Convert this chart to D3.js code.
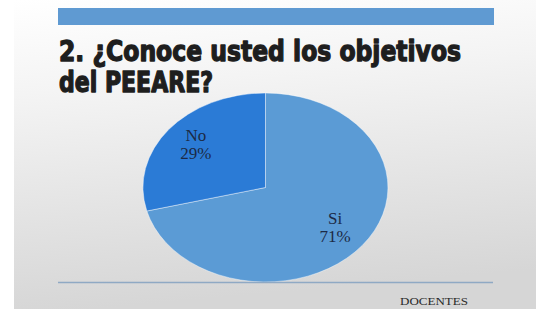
<!DOCTYPE html>
<html><head><meta charset="utf-8">
<script src="https://cdn.jsdelivr.net/npm/d3@7"></script>
<style>html,body{margin:0;padding:0;background:#fff;}svg{display:block;}</style>
</head><body>
<svg id="chart" width="536" height="309"></svg>
<script>
const categories = ["Si", "No"];
const values = [71, 29];
const labels = ["71%", "29%"];
const titleLines = ["2. ¿Conoce usted los objetivos", "del PEEARE?"];
const footer = "DOCENTES";

const colors = d3.scaleOrdinal().domain(categories).range(["#5b9bd5", "#2b7bd6"]);
const svg = d3.select("#chart");
const W = 536, H = 309;

const defs = svg.append("defs");
const g = defs.append("linearGradient").attr("id","bg").attr("x1",0).attr("y1",0).attr("x2",0.15).attr("y2",1);
g.append("stop").attr("offset","0%").attr("stop-color","#ffffff");
g.append("stop").attr("offset","30%").attr("stop-color","#f4f4f4");
g.append("stop").attr("offset","100%").attr("stop-color","#d6d6d6");

svg.append("rect").attr("width",W).attr("height",H).attr("fill","#fff");
svg.append("rect").attr("x",14).attr("y",0).attr("width",W-14).attr("height",H).attr("fill","url(#bg)");

// top blue bar
svg.append("rect").attr("x",58).attr("y",8).attr("width",436).attr("height",17).attr("fill","#5f9ad2");

// title
const tt = svg.append("g").attr("font-family","'DejaVu Sans Condensed','Liberation Sans Narrow',sans-serif")
  .attr("font-weight","bold").attr("fill","#1e1e1e").attr("stroke","#1e1e1e").attr("stroke-width",1.3)
  .attr("stroke-linejoin","round").attr("font-size",28);
tt.append("text").attr("x",59).attr("y",61).attr("textLength",402).attr("lengthAdjust","spacingAndGlyphs").text(titleLines[0]);
tt.append("text").attr("x",59).attr("y",92).attr("textLength",154).attr("lengthAdjust","spacingAndGlyphs").text(titleLines[1]);

// pie
const cx = 265.5, cy = 187.5, rx = 122.5, ry = 94.5;
const pie = d3.pie().sort(null).value(d => d.v);
const data = pie(categories.map((c,i)=>({c, v: values[i], l: labels[i]})));
const arc = d3.arc().innerRadius(0).outerRadius(1);
const labelArc = d3.arc().innerRadius(0.72).outerRadius(0.72);
const pg = svg.append("g").attr("transform",`translate(${cx},${cy}) scale(${rx},${ry})`);
pg.selectAll("path").data(data).join("path").attr("d",arc).attr("fill",d=>colors(d.data.c))
  .attr("stroke","#ffffff").attr("stroke-width",0.004);

const lg = svg.append("g").attr("font-family","'Liberation Serif','Times New Roman','DejaVu Serif',serif").attr("font-size",17).attr("fill","#1c2a45").attr("text-anchor","middle");
data.forEach(d=>{
  const [x,y] = labelArc.centroid(d);
  const px = cx + x*rx, py = cy + y*ry;
  lg.append("text").attr("x",px).attr("y",py-5).text(d.data.c);
  lg.append("text").attr("x",px).attr("y",py+13).text(d.data.l);
});

// bottom line
svg.append("line").attr("x1",58).attr("x2",493).attr("y1",282.5).attr("y2",282.5).attr("stroke","#8fa9c4").attr("stroke-width",1.5);

svg.append("text").attr("x",400).attr("y",305).attr("font-family","'Liberation Serif','Times New Roman','DejaVu Serif',serif")
  .attr("font-size",11).attr("fill","#2a2a2a").attr("textLength",68).attr("lengthAdjust","spacingAndGlyphs").text(footer);
</script>
</body></html>
